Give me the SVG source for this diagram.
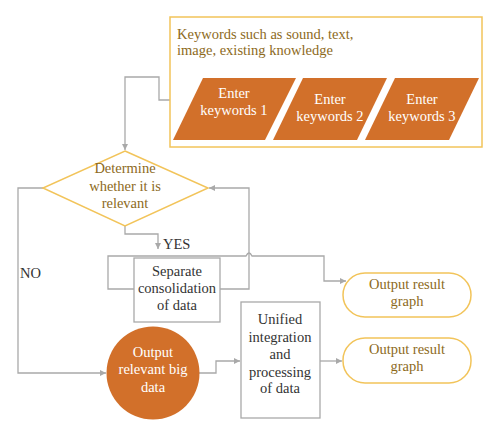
<svg xmlns="http://www.w3.org/2000/svg" width="500" height="438" viewBox="0 0 500 438">
<defs>
<style>
.ln{fill:none;stroke:#a9a9a9;stroke-width:1.3}
.t{font-family:"Liberation Serif","Times New Roman",serif;font-size:14.5px;text-anchor:middle}
.gold{fill:#8d6a1c}
.dk{fill:#333}
.wh{fill:#fff}
.para{fill:#d2702a}
.yel{fill:#fff;stroke:#f2c45a;stroke-width:1.5}
.box{fill:#fff;stroke:#a9a9a9;stroke-width:1.3}
</style>
<marker id="ah" viewBox="0 0 10 10" refX="10" refY="5" markerWidth="6" markerHeight="6" orient="auto" markerUnits="userSpaceOnUse">
<path d="M0,0 L10,5 L0,10 z" fill="#a9a9a9"/>
</marker>
</defs>
<rect width="500" height="438" fill="#fff"/>

<g id="connectors">
<path class="ln" d="M170,100 H159 V77 H125 V150" marker-end="url(#ah)"/>
<path class="ln" d="M125,226 V234 H158 V249" marker-end="url(#ah)"/>
<path class="ln" d="M43,188 H18 V373 H106" marker-end="url(#ah)"/>
<path class="ln" d="M220,289 H249 V188 H209" marker-end="url(#ah)"/>
<path class="ln" d="M134,289 H108 V256 H246 Q249,250 252,256 H324 V281 H346" marker-end="url(#ah)"/>
<path class="ln" d="M199,373 H216 V361 H240" marker-end="url(#ah)"/>
<path class="ln" d="M320,361 H342" marker-end="url(#ah)"/>
</g>

<g id="keywords-box">
<rect x="170" y="17" width="312" height="130" class="yel"/>
<text class="t gold" x="177" y="39" style="text-anchor:start">Keywords such as sound, text,</text>
<text class="t gold" x="177" y="55" style="text-anchor:start">image, existing knowledge</text>
</g>
<g id="enter1">
<polygon class="para" points="203,78 296,78 265,140 173,140"/>
<text class="t wh" x="234" y="98">Enter</text>
<text class="t wh" x="234" y="115">keywords 1</text>
</g>
<g id="enter2">
<polygon class="para" points="303,78 387,78 357,140 273,140"/>
<text class="t wh" x="330" y="104">Enter</text>
<text class="t wh" x="330" y="121">keywords 2</text>
</g>
<g id="enter3">
<polygon class="para" points="395,78 479,78 449,140 365,140"/>
<text class="t wh" x="422" y="104">Enter</text>
<text class="t wh" x="422" y="121">keywords 3</text>
</g>

<g id="decision">
<polygon class="yel" points="125,151 208,188 125,226 43,188"/>
<text class="t gold" x="125" y="173">Determine</text>
<text class="t gold" x="125" y="191">whether it is</text>
<text class="t gold" x="125" y="208">relevant</text>
</g>
<g id="label-yes"><text class="t dk" x="163" y="249" style="text-anchor:start">YES</text></g>
<g id="label-no"><text class="t dk" x="20" y="278" style="text-anchor:start">NO</text></g>

<g id="separate">
<rect class="box" x="134" y="258" width="86" height="64"/>
<text class="t dk" x="177" y="276">Separate</text>
<text class="t dk" x="177" y="293">consolidation</text>
<text class="t dk" x="177" y="310">of data</text>
</g>

<g id="output-big-data">
<circle cx="153" cy="373" r="46.5" fill="#d2702a"/>
<text class="t wh" x="153" y="357">Output</text>
<text class="t wh" x="153" y="374">relevant big</text>
<text class="t wh" x="153" y="392">data</text>
</g>

<g id="unified">
<rect class="box" x="241" y="302" width="79" height="116"/>
<text class="t dk" x="280" y="324">Unified</text>
<text class="t dk" x="280" y="342">integration</text>
<text class="t dk" x="280" y="359">and</text>
<text class="t dk" x="280" y="377">processing</text>
<text class="t dk" x="280" y="393">of data</text>
</g>

<g id="result1">
<rect class="yel" x="343" y="273" width="128" height="44" rx="22"/>
<text class="t gold" x="407" y="289">Output result</text>
<text class="t gold" x="407" y="306">graph</text>
</g>
<g id="result2">
<rect class="yel" x="343" y="338" width="128" height="45" rx="22"/>
<text class="t gold" x="407" y="354">Output result</text>
<text class="t gold" x="407" y="371">graph</text>
</g>
</svg>
